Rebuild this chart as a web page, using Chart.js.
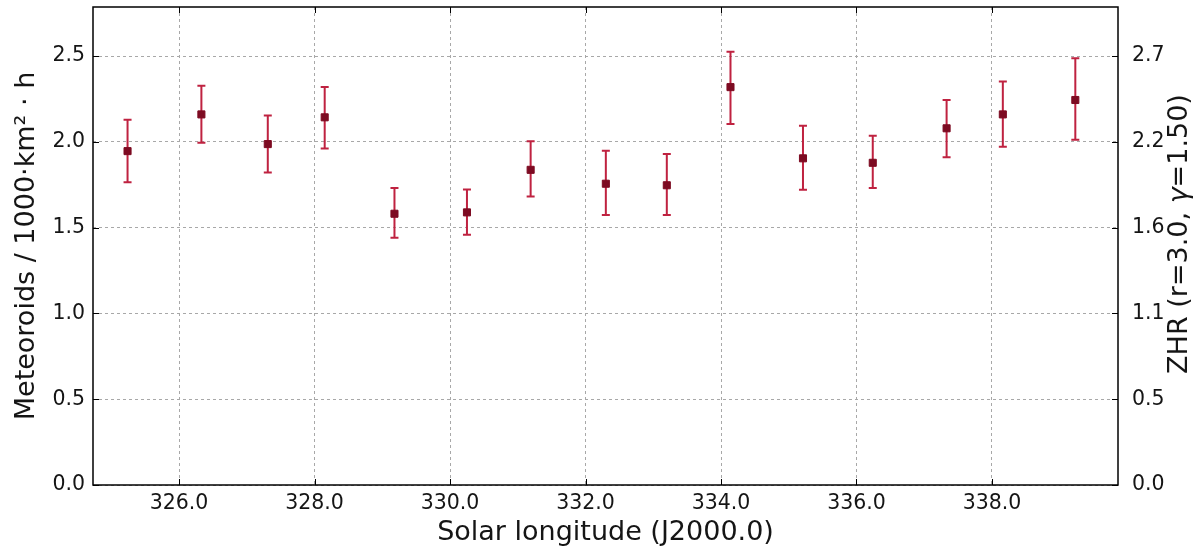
<!DOCTYPE html>
<html>
<head>
<meta charset="utf-8">
<script src="https://cdn.jsdelivr.net/npm/chart.js@4.4.1/dist/chart.umd.min.js"></script>
<style>
  html, body { margin: 0; padding: 0; background: #fff; }
  #wrap { width: 1200px; height: 549px; }
</style>
</head>
<body>
<div id="wrap"><canvas id="meteor-chart"></canvas></div>
<script>
// solar longitude (J2000.0) of each bin
const solarLon = [325.24, 326.33, 327.31, 328.15, 329.18, 330.25, 331.19, 332.30,
                  333.20, 334.14, 335.21, 336.24, 337.33, 338.16, 339.23];
// flux in meteoroids / 1000 km^2 h
const flux     = [1.946, 2.160, 1.987, 2.143, 1.581, 1.589, 1.837, 1.756,
                  1.747, 2.319, 1.904, 1.878, 2.079, 2.160, 2.244];
const fluxHigh = [2.129, 2.327, 2.154, 2.319, 1.731, 1.723, 2.003, 1.948,
                  1.929, 2.525, 2.094, 2.036, 2.244, 2.352, 2.487];
const fluxLow  = [1.764, 1.995, 1.822, 1.962, 1.441, 1.459, 1.682, 1.573,
                  1.573, 2.104, 1.721, 1.731, 1.911, 1.971, 2.012];

const xTicks = [326, 328, 330, 332, 334, 336, 338];
const yTicks = [0, 0.5, 1.0, 1.5, 2.0, 2.5];
const zhrFactor = 1.08; // flux -> ZHR (r=3.0, gamma=1.50)

const X_MIN = 324.73, X_MAX = 339.86, Y_MIN = 0, Y_MAX = 2.786;
const FONT = "'DejaVu Sans', 'Liberation Sans', sans-serif";
const TEXT = "#151515";

// error bars drawn with the chart's scales, under the markers
const errorBars = {
  id: "errorBars",
  beforeDatasetsDraw(chart) {
    const { ctx, scales } = chart;
    ctx.save();
    ctx.strokeStyle = "#bf2240";
    ctx.lineWidth = 2;
    for (let i = 0; i < solarLon.length; i++) {
      let x = scales.x.getPixelForValue(solarLon[i]);
      let yTop = scales.y.getPixelForValue(fluxHigh[i]);
      let yBot = scales.y.getPixelForValue(fluxLow[i]);
      ctx.beginPath();
      ctx.moveTo(x, yTop); ctx.lineTo(x, yBot);
      ctx.moveTo(x - 4, yTop); ctx.lineTo(x + 4, yTop);
      ctx.moveTo(x - 4, yBot); ctx.lineTo(x + 4, yBot);
      ctx.stroke();
    }
    ctx.restore();
  },
  afterDraw(chart) {
    // frame round the plot + inward tick marks
    const { ctx, chartArea: a, scales } = chart;
    ctx.save();
    ctx.strokeStyle = "#000";
    ctx.lineWidth = 1.5;
    ctx.strokeRect(a.left, a.top, a.right - a.left, a.bottom - a.top);
    ctx.lineWidth = 1;
    ctx.beginPath();
    for (let v of xTicks) {
      let x = Math.round(scales.x.getPixelForValue(v)) + 0.5;
      ctx.moveTo(x, a.bottom); ctx.lineTo(x, a.bottom - 6);
      ctx.moveTo(x, a.top); ctx.lineTo(x, a.top + 6);
    }
    for (let v of yTicks) {
      let y = Math.round(scales.y.getPixelForValue(v)) + 0.5;
      ctx.moveTo(a.left, y); ctx.lineTo(a.left + 6, y);
      ctx.moveTo(a.right, y); ctx.lineTo(a.right - 6, y);
    }
    ctx.stroke();

    // right axis title, read bottom-to-top like matplotlib, gamma in italics
    const parts = [
      { t: "ZHR (r=3.0, ", f: "27px " + FONT },
      { t: "γ", f: "italic 27px " + FONT },
      { t: "=1.50)", f: "27px " + FONT },
    ];
    let total = 0;
    for (let p of parts) { ctx.font = p.f; p.w = ctx.measureText(p.t).width; total += p.w; }
    ctx.translate(scales.y2.right - 20, (a.top + a.bottom) / 2 - 12);
    ctx.rotate(-Math.PI / 2);
    ctx.fillStyle = TEXT;
    ctx.textBaseline = "middle";
    ctx.textAlign = "left";
    let cx = -total / 2;
    for (let p of parts) { ctx.font = p.f; ctx.fillText(p.t, cx, 0); cx += p.w; }
    ctx.restore();
  }
};

const gridOpts = {
  color: "#a8a8a8",
  lineWidth: 1,
  drawTicks: false,
};

new Chart(document.getElementById("meteor-chart"), {
  type: "scatter",
  data: {
    datasets: [{
      data: solarLon.map((x, i) => ({ x, y: flux[i] })),
      pointStyle: "rect",
      pointRadius: 5,
      backgroundColor: "#7d0b22",
      borderColor: "#7d0b22",
      borderWidth: 1,
    }]
  },
  options: {
    responsive: true,
    maintainAspectRatio: false,
    animation: false,
    events: [],
    layout: { padding: { top: 7, left: 0, right: 0, bottom: 0 } },
    plugins: { legend: { display: false }, tooltip: { enabled: false } },
    scales: {
      x: {
        type: "linear",
        min: X_MIN, max: X_MAX,
        afterBuildTicks: (s) => { s.ticks = xTicks.map(v => ({ value: v })); },
        afterFit: (s) => { s.height = 64; s.paddingLeft = 0; s.paddingRight = 0; },
        grid: { ...gridOpts },
        border: { display: false, dash: [3, 3] },
        ticks: {
          padding: 6,
          color: TEXT,
          font: { family: FONT, size: 20.5 },
          callback: (v) => Number(v).toFixed(1),
        },
        title: {
          display: true,
          text: "Solar longitude (J2000.0)",
          color: TEXT,
          font: { family: FONT, size: 27 },
          padding: { top: 0, bottom: 0 },
        },
      },
      y: {
        type: "linear",
        position: "left",
        min: Y_MIN, max: Y_MAX,
        afterBuildTicks: (s) => { s.ticks = yTicks.map(v => ({ value: v })); },
        afterFit: (s) => { s.width = 93; s.paddingTop = 0; s.paddingBottom = 0; },
        grid: { ...gridOpts },
        border: { display: false, dash: [3, 3] },
        ticks: {
          padding: 8,
          color: TEXT,
          font: { family: FONT, size: 20.5 },
          callback: (v) => Number(v).toFixed(1),
        },
        title: {
          display: true,
          text: "Meteoroids / 1000·km² · h",
          color: TEXT,
          font: { family: FONT, size: 27 },
          padding: { top: 11, bottom: 0 },
        },
      },
      y2: {
        type: "linear",
        position: "right",
        min: Y_MIN, max: Y_MAX,
        afterBuildTicks: (s) => { s.ticks = yTicks.map(v => ({ value: v })); },
        afterFit: (s) => { s.width = 82; s.paddingTop = 0; s.paddingBottom = 0; },
        grid: { display: false },
        border: { display: false },
        ticks: {
          padding: 6,
          color: TEXT,
          font: { family: FONT, size: 20.5 },
          callback: (v) => (v * zhrFactor).toFixed(1),
        },
      },
    },
  },
  plugins: [errorBars],
});
</script>
</body>
</html>
